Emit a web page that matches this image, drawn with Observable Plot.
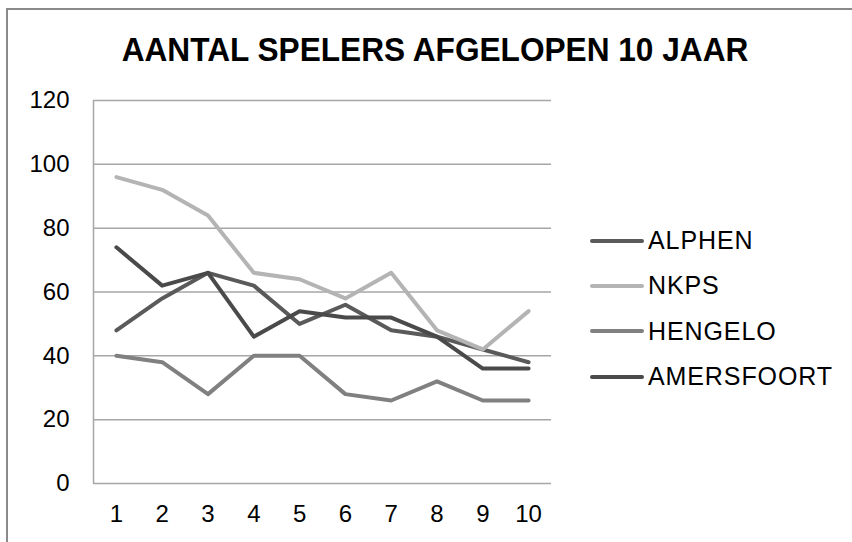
<!DOCTYPE html>
<html>
<head>
<meta charset="utf-8">
<script src="https://cdn.jsdelivr.net/npm/d3@7"></script>
<script src="https://cdn.jsdelivr.net/npm/@observablehq/plot@0.6"></script>
<style>
  html, body { margin: 0; padding: 0; background: #fff; }
  #wrap { position: relative; width: 852px; height: 542px; overflow: hidden; font-family: "Liberation Sans", Arial, sans-serif; }
  #border { position: absolute; left: 6px; top: 8px; width: 900px; height: 600px; border-top: 2px solid #8a8a8a; border-left: 2px solid #8a8a8a; }
  #title { position: absolute; left: 0; width: 870px; top: 30px; text-align: center; font-size: 34px; font-weight: bold; color: #000; letter-spacing: 0px; transform: scaleX(0.93); transform-origin: 435px 0; white-space: nowrap; }
  #legend { position: absolute; left: 590px; top: 218px; }
  .item { display: flex; align-items: center; height: 45.3px; font-size: 25px; letter-spacing: 0.9px; color: #000; }
  .sw { width: 54px; height: 4px; border-radius: 2px; margin-right: 4px; }
  #chart { position: absolute; left: 0; top: 0; }
</style>
</head>
<body>
<div id="wrap">
  <div id="border"></div>
  <div id="chart"></div>
  <div id="title">AANTAL SPELERS AFGELOPEN 10 JAAR</div>
  <div id="legend"></div>
</div>
<script>
const years = [1, 2, 3, 4, 5, 6, 7, 8, 9, 10];
const seriesNames = ["ALPHEN", "NKPS", "HENGELO", "AMERSFOORT"];
const seriesColors = ["#5a5a5a", "#b4b4b4", "#808080", "#4a4a4a"];
const alphen = [48, 58, 66, 62, 50, 56, 48, 46, 42, 38];
const nkps = [96, 92, 84, 66, 64, 58, 66, 48, 42, 54];
const hengelo = [40, 38, 28, 40, 40, 28, 26, 32, 26, 26];
const amersfoort = [74, 62, 66, 46, 54, 52, 52, 46, 36, 36];
const yTicks = [0, 20, 40, 60, 80, 100, 120];

const valueLists = [alphen, nkps, hengelo, amersfoort];
const data = [];
seriesNames.forEach((name, i) => {
  years.forEach((yr, j) => data.push({ series: name, year: yr, value: valueLists[i][j] }));
});

const chart = Plot.plot({
  width: 852,
  height: 542,
  marginLeft: 93,
  marginRight: 301,
  marginTop: 100,
  marginBottom: 59,
  style: { fontFamily: "'Liberation Sans', Arial, sans-serif", background: "transparent", color: "#000" },
  x: { domain: [0.5, 10.5] },
  y: { domain: [0, 120] },
  color: { domain: seriesNames, range: seriesColors },
  marks: [
    Plot.ruleY(yTicks, { stroke: "#a6a6a6", strokeWidth: 1.5 }),
    Plot.ruleX([0.5], { y1: 0, y2: 120, stroke: "#a6a6a6", strokeWidth: 1.5 }),
    Plot.axisY({ ticks: yTicks, tickSize: 0, tickPadding: 24, fontSize: 24, label: null, style: { letterSpacing: "0.3px" } }),
    Plot.axisX({ ticks: years, tickSize: 0, tickPadding: 21, fontSize: 24, label: null, tickFormat: d => String(d) }),
    Plot.line(data, { x: "year", y: "value", z: "series", stroke: "series", strokeWidth: 4, strokeLinejoin: "round", strokeLinecap: "round" })
  ]
});
document.getElementById("chart").appendChild(chart);

const legend = document.getElementById("legend");
seriesNames.forEach((name, i) => {
  const item = document.createElement("div");
  item.className = "item";
  const sw = document.createElement("div");
  sw.className = "sw";
  sw.style.background = seriesColors[i];
  const label = document.createElement("span");
  label.textContent = name;
  item.appendChild(sw);
  item.appendChild(label);
  legend.appendChild(item);
});
</script>
</body>
</html>
